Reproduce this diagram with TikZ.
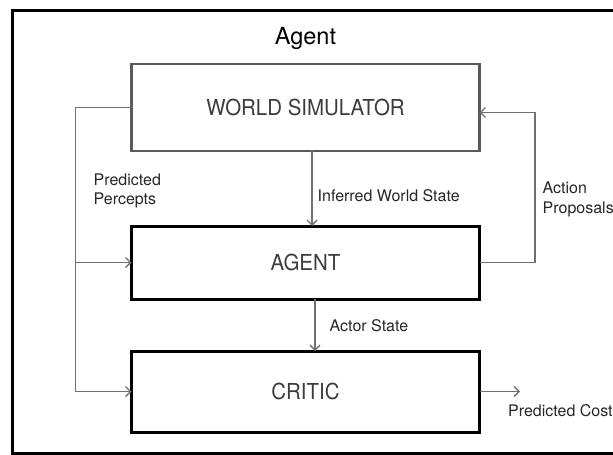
\documentclass[tikz,border=0pt]{standalone}
\usepackage{fontspec}
\setmainfont{TeX Gyre Heros}
\newfontfamily\boxfont{TeX Gyre Heros}[FakeStretch=0.93]
\usepackage{tikz}
\usetikzlibrary{positioning}
\usetikzlibrary{arrows.meta}

\definecolor{boxgray}{HTML}{5A5A5A}
\definecolor{linegray}{HTML}{707070}
\definecolor{txtgray}{HTML}{3C3C3C}

\begin{document}
\begin{tikzpicture}[
    x=1pt, y=-1pt,
    box/.style={draw, inner sep=0pt, outer sep=0pt, minimum width=348pt, text=txtgray, font=\boxfont\fontsize{22}{25}\selectfont},
    sim-box/.style={box, draw=boxgray, line width=2.5pt, minimum height=87pt},
    main-box/.style={box, draw=black, line width=3pt},
    conn/.style={draw=linegray, line width=1.4pt},
    arr/.style={conn, -{Straight Barb[length=5pt, width=10pt]}},
    lbl/.style={inner sep=0pt, align=left, text=black!85, font=\fontsize{16}{19.5}\selectfont}
  ]

  \useasboundingbox (0,0) rectangle (613,455);
  \draw[line width=3pt] (12,10) rectangle (640,453);

  \node[font=\fontsize{23.5}{27}\selectfont] (title) at (305.5,38) {Agent};

  \node[sim-box] (ws) at (305.5,107.5) {WORLD SIMULATOR};
  \node[main-box, minimum height=73pt, below=75pt of ws] (agent) {AGENT};
  \node[main-box, minimum height=81pt, below=52pt of agent] (critic) {CRITIC};

  \coordinate (lb) at (75.7,0);
  \coordinate (rb) at (535,0);
  \coordinate[right=40.7pt of critic.east] (cost);

  \draw[arr] ([xshift=6.5pt]ws.south) -- node[lbl, pos=0.6, right=5pt] (iws) {Inferred World State} ([xshift=6.5pt]agent.north);
  \draw[arr] ([xshift=9.5pt]agent.south) -- node[lbl, pos=0.52, right=14pt] (as) {Actor State} ([xshift=9.5pt]critic.north);

  \draw[arr] (ws.west) -- (ws.west -| lb) |- (critic.west);
  \draw[arr] (lb |- agent.west) -- (agent.west);
  \node[lbl, anchor=west] (pp) at (93.5,191) {Predicted\\Percepts};

  \draw[arr] (agent.east) -- (agent.east -| rb) |- node[lbl, pos=0.21, right=7pt] (ap) {Action\\Proposals} ([yshift=-5pt]ws.east);

  \draw[arr] (critic.east) -- (cost);
  \node[lbl, anchor=base west] (pc) at (508,416) {Predicted Cost};

\end{tikzpicture}
\end{document}
